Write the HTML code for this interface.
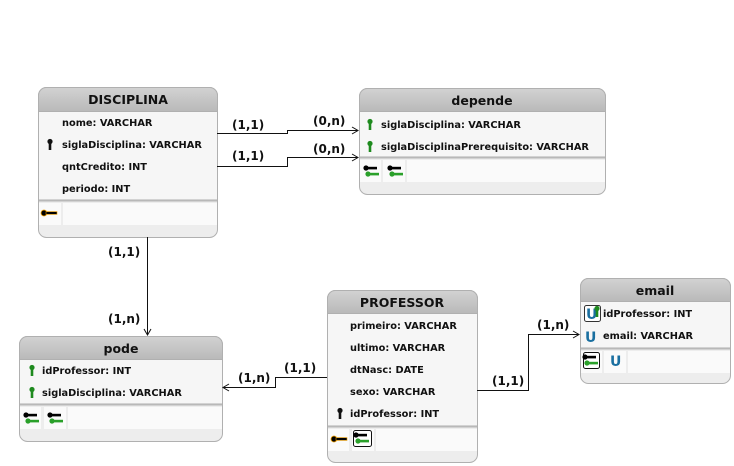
<!DOCTYPE html>
<html><head><meta charset="utf-8"><style>
html,body{margin:0;padding:0;background:#fff;width:734px;height:466px;overflow:hidden}
svg text{font-family:"DejaVu Sans","Liberation Sans",sans-serif;font-weight:bold;fill:#111}
.a{font-size:9.8px}
.t{font-size:12.5px}
.l{font-size:12px}
</style></head><body>
<svg width="734" height="466" viewBox="0 0 734 466" xmlns="http://www.w3.org/2000/svg">
<defs>
<linearGradient id="h" x1="0" y1="0" x2="0" y2="1"><stop offset="0" stop-color="#d2d2d2"/><stop offset="1" stop-color="#b9b9b9"/></linearGradient>
<g id="gk"><circle cx="0" cy="-2.5" r="2.6" fill="#1e8a1e"/><rect x="-1.3" y="-1" width="2.6" height="7" fill="#1e8a1e"/></g>
<g id="pk"><circle cx="0" cy="-2.5" r="2.6" fill="#111"/><rect x="-1.3" y="-1" width="2.6" height="7" fill="#111"/></g>
<g id="fk"><circle cx="-5" cy="-3" r="2.6" fill="#000"/><rect x="-4" y="-4.2" width="10" height="2.6" fill="#000"/><circle cx="-3" cy="3" r="2.6" fill="#2aa02a"/><rect x="-2" y="1.8" width="10" height="2.6" fill="#2aa02a"/></g>
<g id="ok"><circle cx="-5" cy="0" r="3" fill="#000" stroke="#f0a000" stroke-width="0.8"/><rect x="-3" y="-1.4" width="11" height="2.8" fill="#000" stroke="#f0a000" stroke-width="0.6"/></g>
</defs>

<!-- DISCIPLINA -->
<rect x="38.5" y="87.5" width="179" height="150" rx="8" fill="#ededed" stroke="#b0b0b0"/>
<path d="M38.5 111.5 V95.5 a8 8 0 0 1 8 -8 H209.5 a8 8 0 0 1 8 8 V111.5 Z" fill="url(#h)" stroke="#b0b0b0"/>
<rect x="39" y="112" width="178" height="87" fill="#f6f6f6"/>
<line x1="39" y1="200.5" x2="217" y2="200.5" stroke="#b8b8b8" stroke-width="2"/>
<rect x="39" y="203" width="22" height="22" fill="#fafafa"/><rect x="63" y="203" width="154" height="22" fill="#fafafa"/>
<text class="t" x="128" y="104" text-anchor="middle">DISCIPLINA</text>
<text class="a" x="62" y="126">nome: VARCHAR</text>
<use href="#pk" x="50" y="144"/>
<text class="a" x="62" y="148">siglaDisciplina: VARCHAR</text>
<text class="a" x="62" y="170">qntCredito: INT</text>
<text class="a" x="62" y="192">periodo: INT</text>
<use href="#ok" x="49" y="213"/>

<!-- depende -->
<rect x="359.5" y="88.5" width="246" height="106" rx="8" fill="#ededed" stroke="#b0b0b0"/>
<path d="M359.5 111.5 V96.5 a8 8 0 0 1 8 -8 H597.5 a8 8 0 0 1 8 8 V111.5 Z" fill="url(#h)" stroke="#b0b0b0"/>
<rect x="360" y="112" width="245" height="44" fill="#f6f6f6"/>
<line x1="360" y1="157.5" x2="605" y2="157.5" stroke="#b8b8b8" stroke-width="2"/>
<rect x="360" y="160" width="21" height="22" fill="#fafafa"/><rect x="383" y="160" width="22" height="22" fill="#fafafa"/><rect x="407" y="160" width="198" height="22" fill="#fafafa"/>
<text class="t" x="482" y="105" text-anchor="middle">depende</text>
<use href="#gk" x="370" y="124"/>
<text class="a" x="381" y="128">siglaDisciplina: VARCHAR</text>
<use href="#gk" x="370" y="146"/>
<text class="a" x="381" y="150">siglaDisciplinaPrerequisito: VARCHAR</text>
<use href="#fk" x="371" y="171"/><use href="#fk" x="395" y="171"/>

<!-- pode -->
<rect x="19.5" y="336.5" width="203" height="105" rx="8" fill="#ededed" stroke="#b0b0b0"/>
<path d="M19.5 359.5 V344.5 a8 8 0 0 1 8 -8 H214.5 a8 8 0 0 1 8 8 V359.5 Z" fill="url(#h)" stroke="#b0b0b0"/>
<rect x="20" y="360" width="202" height="43" fill="#f6f6f6"/>
<line x1="20" y1="404.5" x2="222" y2="404.5" stroke="#b8b8b8" stroke-width="2"/>
<rect x="20" y="407" width="21" height="22" fill="#fafafa"/><rect x="44" y="407" width="22" height="22" fill="#fafafa"/><rect x="68" y="407" width="154" height="22" fill="#fafafa"/>
<text class="t" x="121" y="353" text-anchor="middle">pode</text>
<use href="#gk" x="32" y="370"/>
<text class="a" x="42" y="374">idProfessor: INT</text>
<use href="#gk" x="32" y="392"/>
<text class="a" x="42" y="396">siglaDisciplina: VARCHAR</text>
<use href="#fk" x="31" y="418"/><use href="#fk" x="55" y="418"/>

<!-- PROFESSOR -->
<rect x="327.5" y="290.5" width="150" height="172" rx="8" fill="#ededed" stroke="#b0b0b0"/>
<path d="M327.5 313.5 V298.5 a8 8 0 0 1 8 -8 H469.5 a8 8 0 0 1 8 8 V313.5 Z" fill="url(#h)" stroke="#b0b0b0"/>
<rect x="328" y="314" width="149" height="111" fill="#f6f6f6"/>
<line x1="328" y1="426.5" x2="477" y2="426.5" stroke="#b8b8b8" stroke-width="2"/>
<rect x="328" y="429" width="21" height="22" fill="#fafafa"/><rect x="352" y="429" width="22" height="22" fill="#fafafa"/><rect x="376" y="429" width="101" height="22" fill="#fafafa"/>
<text class="t" x="402" y="307" text-anchor="middle">PROFESSOR</text>
<text class="a" x="350" y="329">primeiro: VARCHAR</text>
<text class="a" x="350" y="351">ultimo: VARCHAR</text>
<text class="a" x="350" y="373">dtNasc: DATE</text>
<text class="a" x="350" y="395">sexo: VARCHAR</text>
<use href="#pk" x="340" y="413"/>
<text class="a" x="350" y="417">idProfessor: INT</text>
<use href="#ok" x="339" y="439"/>
<rect x="353.5" y="430.5" width="18" height="16" rx="2" fill="#fff" stroke="#111"/>
<use href="#fk" x="361" y="438"/>

<!-- email -->
<rect x="580.5" y="278.5" width="150" height="105" rx="8" fill="#ededed" stroke="#b0b0b0"/>
<path d="M580.5 301.5 V286.5 a8 8 0 0 1 8 -8 H722.5 a8 8 0 0 1 8 8 V301.5 Z" fill="url(#h)" stroke="#b0b0b0"/>
<rect x="581" y="302" width="149" height="45" fill="#f6f6f6"/>
<line x1="581" y1="348.5" x2="730" y2="348.5" stroke="#b8b8b8" stroke-width="2"/>
<rect x="581" y="351" width="21" height="22" fill="#fafafa"/><rect x="604" y="351" width="22" height="22" fill="#fafafa"/><rect x="628" y="351" width="102" height="22" fill="#fafafa"/>
<text class="t" x="655" y="295" text-anchor="middle">email</text>
<rect x="584.5" y="305.5" width="16" height="16" rx="2" fill="#fff" stroke="#333"/>
<text x="586" y="319" style="font-size:14px;fill:#1a6fa0">U</text>
<use href="#gk" x="597" y="311"/>
<text class="a" x="603" y="317">idProfessor: INT</text>
<text x="585" y="342" style="font-size:14px;fill:#1a6fa0">U</text>
<text class="a" x="603" y="339">email: VARCHAR</text>
<rect x="583.5" y="352.5" width="16" height="16" rx="2" fill="#fff" stroke="#111"/>
<use href="#fk" x="590" y="360"/>
<text x="610" y="366" style="font-size:14px;fill:#1a6fa0">U</text>

<!-- connectors -->
<g fill="none" stroke="#111" stroke-width="1">
<path d="M217 133.5 H287.5 V130.5 H358"/>
<path d="M352 127 L358 130.5 L352 134"/>
<path d="M217 166.5 H287.5 V157.5 H358"/>
<path d="M352 154 L358 157.5 L352 161"/>
<path d="M147.5 237 V335"/>
<path d="M144 329 L147.5 335 L151 329"/>
<path d="M327 377.5 H275.5 V387.5 H223"/>
<path d="M229 384 L223 387.5 L229 391"/>
<path d="M477 390.5 H528.5 V334.5 H579"/>
<path d="M573 331 L579 334.5 L573 338"/>
</g>
<text class="l" x="232" y="129">(1,1)</text>
<text class="l" x="313" y="125">(0,n)</text>
<text class="l" x="232" y="160">(1,1)</text>
<text class="l" x="313" y="153">(0,n)</text>
<text class="l" x="108" y="256">(1,1)</text>
<text class="l" x="108" y="323">(1,n)</text>
<text class="l" x="284" y="372">(1,1)</text>
<text class="l" x="238" y="382">(1,n)</text>
<text class="l" x="492" y="385">(1,1)</text>
<text class="l" x="537" y="329">(1,n)</text>
</svg>
</body></html>
